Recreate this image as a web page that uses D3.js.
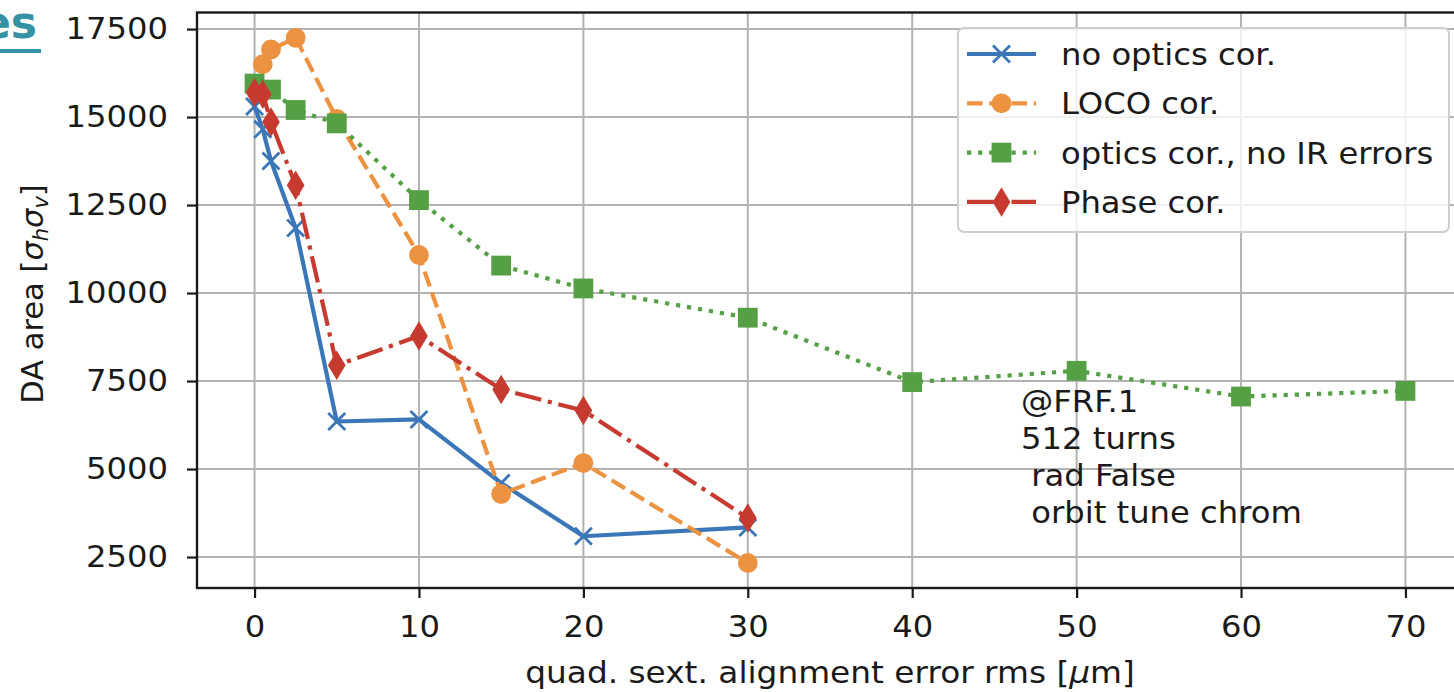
<!DOCTYPE html>
<html>
<head>
<meta charset="utf-8">
<script src="https://cdn.jsdelivr.net/npm/d3@7"></script>
<style>
  html, body { margin: 0; padding: 0; background: #fff; }
  svg { display: block; }
  text { font-family: "DejaVu Sans", sans-serif; fill: #1a1a1a; }
</style>
</head>
<body>
<svg id="chart" width="1454" height="692"></svg>
<script>
// ---- data -------------------------------------------------------------
const xTicks = [0, 10, 20, 30, 40, 50, 60, 70];
const yTicks = [2500, 5000, 7500, 10000, 12500, 15000, 17500];

const noOpticsX = [0, 0.5, 1, 2.5, 5, 10, 15, 20, 30];
const noOpticsY = [15300, 14650, 13750, 11850, 6350, 6410, 4600, 3090, 3340];

const locoX = [0.5, 1, 2.5, 5, 10, 15, 20, 30];
const locoY = [16500, 16920, 17250, 14950, 11080, 4290, 5170, 2330];

const noIrX = [0, 1, 2.5, 5, 10, 15, 20, 30, 40, 50, 60, 70];
const noIrY = [15950, 15780, 15200, 14820, 12640, 10780, 10130, 9300, 7470, 7790, 7060, 7220];

const phaseX = [0, 0.5, 1, 2.5, 5, 10, 15, 20, 30];
const phaseY = [15700, 15650, 14860, 13060, 7950, 8780, 7260, 6660, 3610];

const seriesNames = ["no optics cor.", "LOCO cor.", "optics cor., no IR errors", "Phase cor."];
const noteLines = ["@FRF.1", "512 turns", " rad False", " orbit tune chrom"];

// ---- layout / styles ---------------------------------------------------
const plot = { left: 197, right: 1463, top: 12.5, bottom: 588 };
const lw = 4.2;           // line width
const mew = 2.8;          // marker edge width
const ms = 17;            // marker size
const sx = 1.075;         // horizontal glyph stretch of the figure text
const fs = 30;            // base font size

const series = [
  { name: seriesNames[0], xs: noOpticsX, ys: noOpticsY, color: "#3b77b8", dash: null,                       marker: "x" },
  { name: seriesNames[1], xs: locoX,     ys: locoY,     color: "#ec9240", dash: [3.7 * lw, 1.6 * lw],     marker: "o" },
  { name: seriesNames[2], xs: noIrX,     ys: noIrY,     color: "#55a044", dash: [1 * lw, 1.65 * lw],      marker: "s" },
  { name: seriesNames[3], xs: phaseX,    ys: phaseY,    color: "#c63a30", dash: [6.4 * lw, 1.6 * lw, 1 * lw, 1.6 * lw], marker: "d" }
];

const svg = d3.select("#chart");

const x = d3.scaleLinear().domain([-3.5, 73.5]).range([plot.left, plot.right]);
const y = d3.scaleLinear().domain([1620, 17970]).range([plot.bottom, plot.top]);

// text anchored at (ax, ay), stretched horizontally by sx
function stretchedText(parent, ax, ay, extra) {
  return parent.append("text")
    .attr("transform", `translate(${ax},${ay}) ${extra || ""} scale(${sx},1)`)
    .attr("x", 0).attr("y", 0).attr("font-size", fs);
}

// ---- grid ---------------------------------------------------------------
const grid = svg.append("g").attr("stroke", "#b3b3b3").attr("stroke-width", 2);
grid.selectAll("line.gx").data(xTicks).join("line")
  .attr("x1", d => x(d)).attr("x2", d => x(d))
  .attr("y1", plot.top).attr("y2", plot.bottom);
grid.selectAll("line.gy").data(yTicks).join("line")
  .attr("x1", plot.left).attr("x2", plot.right)
  .attr("y1", d => y(d)).attr("y2", d => y(d));

// ---- markers --------------------------------------------------------------
function drawMarker(g, type, cx, cy, color) {
  const r = ms / 2;
  if (type === "x") {
    g.append("path")
      .attr("d", `M${cx - r},${cy - r}L${cx + r},${cy + r}M${cx - r},${cy + r}L${cx + r},${cy - r}`)
      .attr("stroke", color).attr("stroke-width", mew).attr("fill", "none");
  } else if (type === "o") {
    g.append("circle").attr("cx", cx).attr("cy", cy).attr("r", r)
      .attr("fill", color).attr("stroke", color).attr("stroke-width", mew);
  } else if (type === "s") {
    g.append("rect").attr("x", cx - r).attr("y", cy - r).attr("width", ms).attr("height", ms)
      .attr("fill", color).attr("stroke", color).attr("stroke-width", mew);
  } else if (type === "d") {
    const hh = ms * 0.707, hw = ms * 0.707 * 0.6;
    g.append("path")
      .attr("d", `M${cx},${cy - hh}L${cx + hw},${cy}L${cx},${cy + hh}L${cx - hw},${cy}Z`)
      .attr("fill", color).attr("stroke", color).attr("stroke-width", mew)
      .attr("stroke-linejoin", "miter");
  }
}

// ---- series ----------------------------------------------------------------
const line = d3.line().x(d => x(d[0])).y(d => y(d[1]));
const dataLayer = svg.append("g");
series.forEach(s => {
  const pts = s.xs.map((v, i) => [v, s.ys[i]]);
  const g = dataLayer.append("g");
  g.append("path").datum(pts).attr("d", line)
    .attr("fill", "none").attr("stroke", s.color).attr("stroke-width", lw)
    .attr("stroke-linejoin", "round")
    .attr("stroke-dasharray", s.dash ? s.dash.join(",") : null);
  pts.forEach(p => drawMarker(g, s.marker, x(p[0]), y(p[1]), s.color));
});

// ---- axes ------------------------------------------------------------------
const xAxis = svg.append("g").attr("transform", `translate(0,${plot.bottom})`)
  .call(d3.axisBottom(x).tickValues(xTicks).tickSize(10).tickPadding(18).tickFormat(d3.format("d")));
const yAxis = svg.append("g").attr("transform", `translate(${plot.left},0)`)
  .call(d3.axisLeft(y).tickValues(yTicks).tickSize(10).tickPadding(19).tickFormat(d3.format("d")));
[xAxis, yAxis].forEach(a => {
  a.select(".domain").remove();
  a.selectAll(".tick line").attr("stroke", "#1a1a1a").attr("stroke-width", 2.2);
  a.selectAll(".tick text")
    .attr("font-family", "DejaVu Sans").attr("font-size", fs).attr("fill", "#1a1a1a")
    .each(function () {
      const t = d3.select(this);
      const tx = +t.attr("x") || 0;
      t.attr("x", tx / sx).attr("transform", `scale(${sx},1)`);
    });
});

// frame
svg.append("rect")
  .attr("x", plot.left).attr("y", plot.top)
  .attr("width", plot.right - plot.left).attr("height", plot.bottom - plot.top)
  .attr("fill", "none").attr("stroke", "#1a1a1a").attr("stroke-width", 2.4);

// ---- axis labels ------------------------------------------------------------
const xl = stretchedText(svg, (plot.left + plot.right) / 2, 683)
  .attr("text-anchor", "middle").attr("font-size", 30.5);
xl.append("tspan").text("quad. sext. alignment error rms [");
xl.append("tspan").attr("font-style", "italic").text("μ");
xl.append("tspan").text("m]");

const yl = svg.append("text")
  .attr("transform", `translate(43,294) rotate(-90)`)
  .attr("text-anchor", "middle").attr("font-size", 30.5);
yl.append("tspan").text("DA area [");
yl.append("tspan").attr("font-style", "italic").text("σ");
yl.append("tspan").attr("font-style", "italic").attr("font-size", 21).attr("dy", 5).text("h");
yl.append("tspan").attr("font-style", "italic").attr("dy", -5).text("σ");
yl.append("tspan").attr("font-style", "italic").attr("font-size", 21).attr("dy", 5).text("v");
yl.append("tspan").attr("dy", -5).text("]");

// ---- legend -----------------------------------------------------------------
const lg = svg.append("g");
lg.append("rect")
  .attr("x", 958).attr("y", 28).attr("width", 491).attr("height", 204).attr("rx", 6)
  .attr("fill", "#fff").attr("fill-opacity", 0.8)
  .attr("stroke", "#cfcfcf").attr("stroke-width", 2);
series.forEach((s, i) => {
  const cy = 54 + i * 49.3;
  lg.append("line").attr("x1", 967).attr("x2", 1036).attr("y1", cy).attr("y2", cy)
    .attr("stroke", s.color).attr("stroke-width", lw)
    .attr("stroke-dasharray", s.dash ? s.dash.join(",") : null);
  drawMarker(lg, s.marker, 1001.5, cy, s.color);
  stretchedText(lg, 1061, cy + 11).text(s.name);
});

// ---- annotation ---------------------------------------------------------------
noteLines.forEach((t, i) => {
  stretchedText(svg, 1021, 412 + i * 37)
    .attr("xml:space", "preserve").style("white-space", "pre")
    .text(t);
});

// ---- slide link fragment --------------------------------------------------------
svg.append("text")
  .attr("x", 37).attr("y", 38).attr("text-anchor", "end")
  .attr("font-family", "Liberation Sans, Arial, sans-serif")
  .attr("font-size", 44).attr("font-weight", "bold")
  .style("fill", "#3592a5").text("es");
svg.append("rect").attr("x", 0).attr("y", 49).attr("width", 41).attr("height", 4).attr("fill", "#3592a5");
</script>
</body>
</html>
